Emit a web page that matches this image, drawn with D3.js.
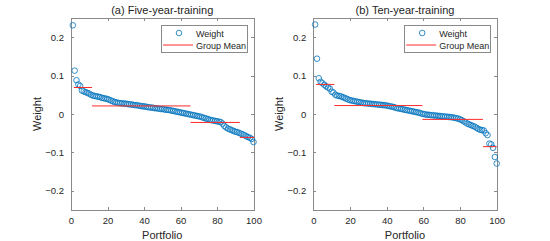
<!DOCTYPE html>
<html lang="en">
<head>
  <meta charset="UTF-8">
  <title>Portfolio Weights</title>
  <script src="https://d3js.org/d3.v7.min.js"></script>
  <style>
    body { margin: 0; background: #fff; }
    text { font-family: "Liberation Sans", Arial, sans-serif; fill: #262626; }
    .axis path, .axis line { stroke: #8a8a8a; stroke-width: 1px; shape-rendering: crispEdges; }
    .axis text { font-size: 9.5px; }
    .pt { fill: none; stroke: #0072BD; stroke-width: 0.8px; }
    .mean { stroke: #ff2a2a; stroke-width: 1px; }
  </style>
</head>
<body>
<svg width="550" height="241" id="chart"></svg>

<script>
  // weights, sorted, five-year training window
  const fiveYear = [
    0.231, 0.113, 0.088, 0.077, 0.073, 0.061, 0.059, 0.057, 0.055, 0.053,
    0.050, 0.048, 0.047, 0.046, 0.045, 0.044, 0.042, 0.041, 0.040, 0.039,
    0.037, 0.035, 0.033, 0.031, 0.030, 0.029, 0.028, 0.028, 0.027, 0.027,
    0.026, 0.025, 0.025, 0.024, 0.023, 0.023, 0.022, 0.021, 0.020, 0.020,
    0.019, 0.018, 0.017, 0.017, 0.016, 0.015, 0.015, 0.014, 0.013, 0.013,
    0.012, 0.011, 0.011, 0.010, 0.009, 0.008, 0.007, 0.006, 0.005, 0.004,
    0.003, 0.002, 0.001, 0.000, -0.001, -0.002, -0.003, -0.004, -0.005, -0.006,
    -0.007, -0.009, -0.010, -0.012, -0.013, -0.015, -0.016, -0.017, -0.018, -0.019,
    -0.020, -0.021, -0.025, -0.031, -0.035, -0.038, -0.040, -0.042, -0.044, -0.046,
    -0.047, -0.049, -0.051, -0.053, -0.055, -0.058, -0.060, -0.062, -0.065, -0.073
  ];

  // weights, sorted, ten-year training window
  const tenYear = [
    0.233, 0.144, 0.093, 0.084, 0.080, 0.076, 0.072, 0.069, 0.066, 0.058,
    0.056, 0.050, 0.048, 0.047, 0.046, 0.044, 0.042, 0.040, 0.038, 0.036,
    0.035, 0.034, 0.033, 0.032, 0.031, 0.030, 0.029, 0.028, 0.028, 0.027,
    0.027, 0.026, 0.026, 0.025, 0.025, 0.024, 0.024, 0.023, 0.023, 0.022,
    0.021, 0.020, 0.019, 0.018, 0.016, 0.015, 0.014, 0.013, 0.012, 0.011,
    0.010, 0.009, 0.008, 0.007, 0.006, 0.005, 0.004, 0.003, 0.001, 0.000,
    -0.001, -0.002, -0.002, -0.003, -0.003, -0.004, -0.004, -0.005, -0.005, -0.006,
    -0.006, -0.007, -0.007, -0.008, -0.008, -0.009, -0.010, -0.011, -0.012, -0.014,
    -0.016, -0.019, -0.022, -0.025, -0.027, -0.029, -0.031, -0.033, -0.036, -0.039,
    -0.041, -0.042, -0.043, -0.050, -0.055, -0.077, -0.079, -0.088, -0.112, -0.129
  ];

  // group mean segments: start, end (portfolio index) and mean weight
  const fiveStart = [1.5, 11.5, 65.5, 92.5];
  const fiveEnd   = [11.5, 65.5, 92.5, 100.5];
  const fiveMean  = [0.069, 0.021, -0.022, -0.061];

  const tenStart = [1.5, 11.5, 59.5, 92.5];
  const tenEnd   = [11.5, 59.5, 92.5, 100];
  const tenMean  = [0.077, 0.022, -0.014, -0.085];

  const titles = ['(a) Five-year-training', '(b) Ten-year-training'];
  const xTicks = [0, 20, 40, 60, 80, 100];
  const yTicks = [-0.2, -0.1, 0, 0.1, 0.2];
  const legendLabels = ['Weight', 'Group Mean'];

  const svg = d3.select('#chart');

  const panels = [
    { title: titles[0], values: fiveYear, s: fiveStart, e: fiveEnd, m: fiveMean, left: 71, right: 253.5 },
    { title: titles[1], values: tenYear, s: tenStart, e: tenEnd, m: tenMean, left: 313.3, right: 496.7 }
  ];

  const plotTop = 18, plotBottom = 210;

  panels.forEach(p => {
    const x = d3.scaleLinear().domain([0, 100]).range([p.left, p.right]);
    const y = d3.scaleLinear().domain([-0.25, 0.25]).range([plotBottom, plotTop]);
    const g = svg.append('g');

    // axes, ticks pointing inward, box on all sides
    g.append('g').attr('class', 'axis')
      .attr('transform', `translate(0,${plotBottom})`)
      .call(d3.axisBottom(x).tickValues(xTicks).tickSizeInner(-3).tickSizeOuter(0).tickPadding(7.5));
    g.append('g').attr('class', 'axis')
      .attr('transform', `translate(0,${plotTop})`)
      .call(d3.axisTop(x).tickValues(xTicks).tickSizeInner(-3).tickSizeOuter(0).tickFormat(''));
    g.append('g').attr('class', 'axis')
      .attr('transform', `translate(${p.left},0)`)
      .call(d3.axisLeft(y).tickValues(yTicks).tickSizeInner(-3).tickSizeOuter(0).tickPadding(7)
        .tickFormat(d => d === 0 ? '0' : d3.format('.1f')(d)));
    g.append('g').attr('class', 'axis')
      .attr('transform', `translate(${p.right},0)`)
      .call(d3.axisRight(y).tickValues(yTicks).tickSizeInner(-3).tickSizeOuter(0).tickFormat(''));

    g.selectAll('.axis text').style('fill', '#262626');

    // weights
    g.selectAll('.pt')
      .data(p.values)
      .enter()
      .append('circle')
      .attr('class', 'pt')
      .attr('cx', (d, i) => x(i + 1))
      .attr('cy', d => y(d))
      .attr('r', 2.8);

    // group means
    g.selectAll('.mean')
      .data(p.m)
      .enter()
      .append('line')
      .attr('class', 'mean')
      .attr('x1', (d, i) => x(p.s[i]))
      .attr('x2', (d, i) => x(p.e[i]))
      .attr('y1', d => y(d))
      .attr('y2', d => y(d));

    // titles and labels
    const cx = (p.left + p.right) / 2;
    g.append('text')
      .attr('x', cx).attr('y', 14)
      .attr('text-anchor', 'middle')
      .style('font-size', '11px')
      .text(p.title);
    g.append('text')
      .attr('x', cx).attr('y', 239)
      .attr('text-anchor', 'middle')
      .style('font-size', '11px')
      .text('Portfolio');
    g.append('text')
      .attr('transform', `translate(${p.left - 30},${(plotTop + plotBottom) / 2}) rotate(-90)`)
      .attr('text-anchor', 'middle')
      .style('font-size', '11px')
      .text('Weight');

    // legend
    const lx = p.right - 92.5, ly = 25;
    const lg = g.append('g').attr('transform', `translate(${lx},${ly})`);
    lg.append('rect')
      .attr('width', 86.5).attr('height', 27)
      .attr('fill', '#fff').attr('stroke', '#8a8a8a').attr('stroke-width', 1)
      .attr('shape-rendering', 'crispEdges');
    lg.append('circle').attr('class', 'pt').attr('cx', 18).attr('cy', 8).attr('r', 2.8);
    lg.append('line').attr('class', 'mean').attr('x1', 2).attr('x2', 32).attr('y1', 20).attr('y2', 20);
    lg.selectAll('.lbl')
      .data(legendLabels)
      .enter()
      .append('text')
      .attr('class', 'lbl')
      .attr('x', 35)
      .attr('y', (d, i) => 11.5 + i * 12.5)
      .style('font-size', '9px')
      .text(d => d);
  });
</script>
</body>
</html>
